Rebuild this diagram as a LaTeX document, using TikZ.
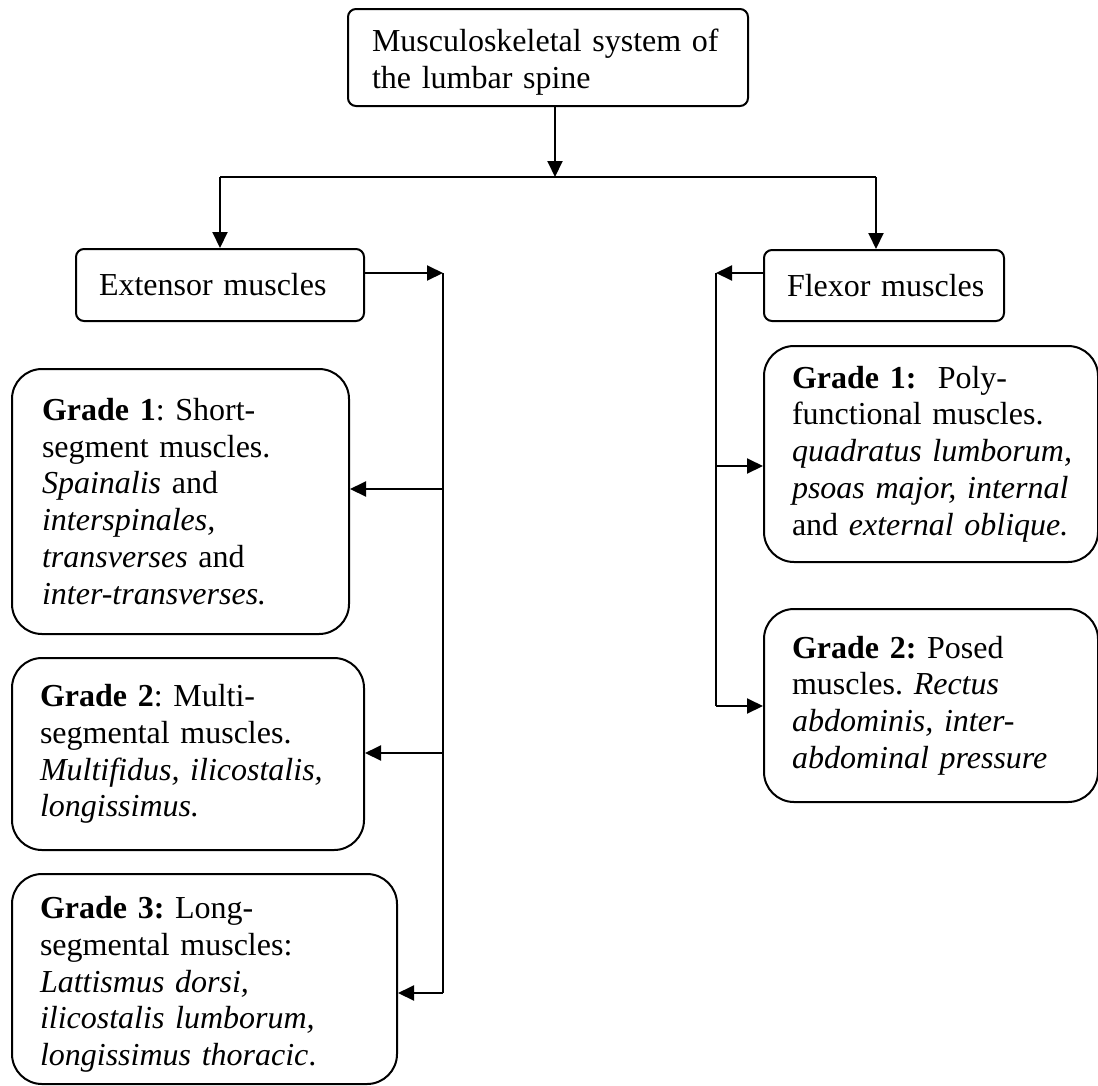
\documentclass[tikz,border=0pt]{standalone}
\usepackage{fontspec}
\setmainfont{Liberation Serif}
\usetikzlibrary{arrows.meta}
\newcommand\nobreaks{\frenchspacing\hyphenpenalty=10000\relax\exhyphenpenalty=10000\relax}
\tikzset{
  smallbox/.style={draw, rounded corners=8bp, anchor=north west, align=left, inner ysep=0bp},
  gradebox/.style={draw, rounded corners=30bp, anchor=north west, align=left, inner ysep=0bp},
}
\begin{document}
\begin{tikzpicture}[x=1bp,y=-1bp,>={Triangle[length=16bp,width=15bp]},line join=miter,
  font=\fontsize{32bp}{36.8bp}\selectfont, execute at begin node=\nobreaks]
  \pgfsetlinewidth{2bp}
  \useasboundingbox (0,0) rectangle (1098,1086);
%%
  % Node: System
  \node[smallbox, text width=352bp, inner xsep=24bp, minimum height=97bp] (sys) at (347,8)
    {\rule{0pt}{32bp}Musculoskeletal~system~of\\the lumbar spine};
  % Node: Ext
  \node[smallbox, text width=242bp, inner xsep=23bp, minimum height=72bp] (ext) at (75,248)
    {Extensor~muscles};
  % Node: Flex
  \node[smallbox, text width=194bp, inner xsep=23bp, minimum height=71bp] (flex) at (763,249)
    {Flexor~muscles};
  % Node: ExtGrade1
  \node[gradebox, text width=277bp, inner xsep=30bp, minimum height=265bp] (eg1) at (11,368)
    {\textbf{Grade 1}: Short-\\segment muscles.\\\textit{Spainalis} and\\\textit{interspinales,}\\\textit{transverses} and\\\textit{inter-transverses.}};
  % Node: ExtGrade2
  \node[gradebox, text width=296bp, inner xsep=28bp, minimum height=192bp] (eg2) at (11,657)
    {\textbf{Grade 2}: Multi-\\segmental muscles.\\\textit{Multifidus,~ilicostalis,}\\\textit{longissimus.}};
  % Node: ExtGrade3
  \node[gradebox, text width=329bp, inner xsep=28bp, minimum height=210bp] (eg3) at (11,873)
    {\rule{0pt}{33bp}\textbf{Grade 3:} Long-\\segmental muscles:\\\textit{Lattismus dorsi,}\\\textit{ilicostalis~lumborum,}\\\textit{longissimus~thoracic}.};
  % Node: FlexGrade1
  \node[gradebox, text width=278bp, inner xsep=28bp, minimum height=216bp] (fg1) at (763,345)
    {\textbf{Grade 1:}\ \ Poly-\\functional~muscles.\\\textit{quadratus~lumborum,}\\\textit{psoas~major,~internal}\\and~\textit{external~oblique.}};
  % Node: FlexGrade2
  \node[gradebox, text width=278bp, inner xsep=28bp, minimum height=193bp] (fg2) at (763,608)
    {\textbf{Grade 2:} Posed\\muscles. \textit{Rectus}\\\textit{abdominis, inter-}\\\textit{abdominal~pressure}};
%%
  \coordinate (junc) at (555,177);
  \coordinate (busL) at (220,177);
  \coordinate (busR) at (876,177);
  \coordinate (spineL) at (443,273);
  \coordinate (tapL1) at (443,489);
  \coordinate (tapL2) at (443,753);
  \coordinate (spineLend) at (443,993);
  \coordinate (spineR) at (716,273);
  \coordinate (tapR1) at (716,466);
  \coordinate (spineRend) at (716,706);
  % Edge: System -> Bus
  \draw [->] (junc |- sys.south) -- (junc);
  \draw (busL) -- (busR);
  % Edge: Bus -> Ext
  \draw [->] (busL) -- (busL |- ext.north);
  % Edge: Bus -> Flex
  \draw [->] (busR) -- (busR |- flex.north);
  % Edge: Ext -> ExtGrade1, ExtGrade2, ExtGrade3
  \draw [->] (ext.east |- spineL) -- (spineL);
  \draw (spineL) -- (spineLend);
  \draw [->] (tapL1) -- (tapL1 -| eg1.east);
  \draw [->] (tapL2) -- (tapL2 -| eg2.east);
  \draw [->] (spineLend) -- (spineLend -| eg3.east);
  % Edge: Flex -> FlexGrade1, FlexGrade2
  \draw [->] (flex.west |- spineR) -- (spineR);
  \draw (spineR) -- (spineRend);
  \draw [->] (tapR1) -- (tapR1 -| fg1.west);
  \draw [->] (spineRend) -- (spineRend -| fg2.west);
%
\end{tikzpicture}
\end{document}
